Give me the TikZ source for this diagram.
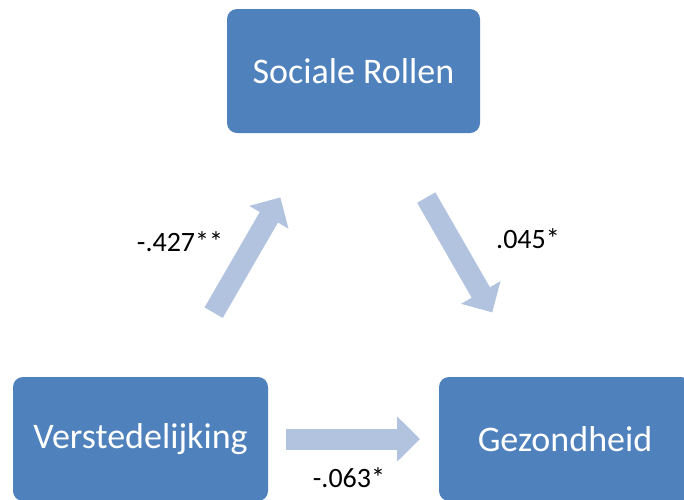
\documentclass[tikz,border=0pt]{standalone}
\usepackage{fontspec}
\setmainfont{Carlito}
\usetikzlibrary{arrows.meta}

\definecolor{boxblue}{HTML}{4F81BD}
\definecolor{arrowblue}{HTML}{B1C3DE}

\begin{document}
\begin{tikzpicture}[
        x=1pt,
        y=-1pt,
        block/.style={
            rectangle,
            fill=boxblue,
            text=white,
            text centered,
            rounded corners=10pt,
            minimum width=253pt,
            minimum height=124pt,
            font=\fontsize{36}{43}\selectfont
        },
        line/.style={
            draw=arrowblue,
            line width=21pt,
            -{Triangle[width=44pt,length=23pt]},
            shorten <=146pt,
            shorten >=146pt
        },
        coef/.style={
            font=\fontsize{28}{33}\selectfont
        },
      ]
        \useasboundingbox (0,0) rectangle (684,499);
        \clip (0,0) rectangle (684,499);
        \node [block] (sociale-rollen) at (353.5,71) {Sociale Rollen};
        \node [block,minimum width=255pt] (verstedelijking) at (140.5,439) {Verstedelijking};
        \node [block,minimum width=252pt] (gezondheid) at (565,439) {Gezondheid};
        \path [line] (verstedelijking.center) -- (sociale-rollen.center);
        \path [line] (sociale-rollen.center) -- (gezondheid.center);
        \path [line,shorten <=145pt,shorten >=145pt] (verstedelijking.center) -- (gezondheid.center);
        \node [coef] (coef-a) at (180,242) {-.427**};
        \node [coef] (coef-b) at (528,239) {.045*};
        \node [coef] (coef-c) at (349,478) {-.063*};
      \end{tikzpicture}
\end{document}
